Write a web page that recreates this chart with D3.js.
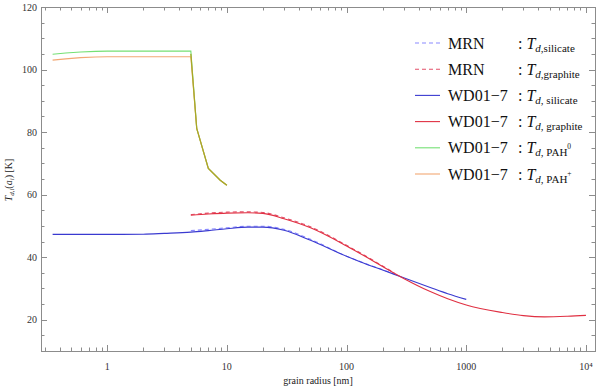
<!DOCTYPE html>
<html>
<head>
<meta charset="utf-8">
<script src="https://cdn.jsdelivr.net/npm/d3@7"></script>
<style>
  body { margin: 0; background: #fff; }
  svg { display: block; }
  text { font-family: 'Liberation Serif', 'Times New Roman', Times, serif; }
</style>
</head>
<body>
<svg id="chart"></svg>
<script>
// grain radius [nm] and dust temperature [K]
const mrnA = [5, 7, 10, 15, 20, 30, 50, 100, 150, 200, 250];
const mrnSilT = [48.5, 48.9, 49.4, 49.9, 49.9, 48.9, 45.7, 40.3, 37.7, 36.0, 34.6];
const mrnGraT = [53.6, 54.1, 54.4, 54.5, 54.3, 52.6, 49.7, 43.8, 40.0, 37.2, 35.0];

const wdSilA = [0.35, 0.5, 1, 2, 3, 5, 7, 10, 15, 20, 30, 50, 100, 150, 200, 300, 500, 700, 1000];
const wdSilT = [47.3, 47.3, 47.3, 47.35, 47.6, 48.0, 48.5, 49.1, 49.6, 49.6, 48.6, 45.4, 40.3, 37.6, 35.9, 33.4, 30.3, 28.3, 26.5];

const wdGraA = [5, 7, 10, 15, 20, 30, 50, 100, 150, 200, 300, 500, 700, 1000, 2000, 3000, 4500, 7000, 10000];
const wdGraT = [53.4, 53.8, 54.1, 54.2, 54.0, 52.3, 49.4, 43.6, 39.8, 37.0, 33.2, 29.0, 26.7, 24.7, 22.3, 21.3, 20.9, 21.1, 21.4];

const pahA = [0.35, 0.45, 0.6, 0.8, 1, 2, 3, 5, 5.6, 7, 8.8, 10];
const pah0T = [104.9, 105.3, 105.6, 105.8, 105.9, 105.9, 105.9, 105.9, 81.2, 68.4, 64.6, 63.0];
const pahPT = [103.0, 103.4, 103.8, 104.0, 104.1, 104.1, 104.1, 104.1, 81.2, 68.4, 64.6, 63.0];

const xTickLabels = ["1", "10", "100", "1000", "10⁴"];
const yTickValues = [20, 40, 60, 80, 100, 120];

const series = [
    { name: "MRN", sub: "silicate", sep: ",", a: mrnA, t: mrnSilT, color: "#8a8aff", dash: "4,3", curve: true },
    { name: "MRN", sub: "graphite", sep: ",", a: mrnA, t: mrnGraT, color: "#e4506a", dash: "4,3", curve: true },
    { name: "WD01\u22127", sub: "silicate", sep: ", ", a: wdSilA, t: wdSilT, color: "#3a3ad0", dash: null, curve: true },
    { name: "WD01\u22127", sub: "graphite", sep: ", ", a: wdGraA, t: wdGraT, color: "#e03042", dash: null, curve: true },
    { name: "WD01\u22127", sub: "PAH", sup: "0", sep: ", ", a: pahA, t: pah0T, color: "#74e074", dash: null, curve: false },
    { name: "WD01\u22127", sub: "PAH", sup: "+", sep: ", ", a: pahA, t: pahPT, color: "#f2a874", dash: null, curve: false }
];
const overlapColor = "#a8a826";

const width = 600, height = 389;
const mLeft = 41, mRight = 595, mTop = 7, mBottom = 351;

const svg = d3.select("#chart").attr("width", width).attr("height", height);

const x = d3.scaleLog().domain([0.28, 11900]).range([mLeft, mRight]);
const y = d3.scaleLinear().domain([10, 120]).range([mBottom, mTop]);

const frameColor = "#8c8c8c";

// frame
svg.append("rect")
    .attr("x", mLeft + 0.5).attr("y", mTop + 0.5)
    .attr("width", mRight - mLeft).attr("height", mBottom - mTop)
    .attr("fill", "none").attr("stroke", frameColor).attr("stroke-width", 1);

// x ticks (inward, bottom and top)
const xt = x.ticks();
const isMajor = v => Math.abs(Math.log10(v) - Math.round(Math.log10(v))) < 1e-9;
const gx = svg.append("g");
xt.forEach(v => {
    const len = isMajor(v) ? 6 : 3.5;
    const px = Math.round(x(v)) + 0.5;
    gx.append("line").attr("x1", px).attr("x2", px).attr("y1", mBottom).attr("y2", mBottom - len)
        .attr("stroke", frameColor);
    gx.append("line").attr("x1", px).attr("x2", px).attr("y1", mTop).attr("y2", mTop + len)
        .attr("stroke", frameColor);
});
xt.filter(isMajor).forEach((v, i) => {
    gx.append("text")
        .attr("x", x(v)).attr("y", 370)
        .attr("text-anchor", "middle")
        .attr("font-size", 10).attr("fill", "#333")
        .text(xTickLabels[i]);
});

// y ticks
const gy = svg.append("g");
d3.range(10, 121, 5).forEach(v => {
    const len = v % 20 === 0 ? 6 : 3.5;
    const py = Math.round(y(v)) + 0.5;
    gy.append("line").attr("x1", mLeft).attr("x2", mLeft + len).attr("y1", py).attr("y2", py)
        .attr("stroke", frameColor);
    gy.append("line").attr("x1", mRight).attr("x2", mRight - len).attr("y1", py).attr("y2", py)
        .attr("stroke", frameColor);
});
yTickValues.forEach(v => {
    gy.append("text")
        .attr("x", 37).attr("y", y(v) + 3.5)
        .attr("text-anchor", "end")
        .attr("font-size", 10).attr("fill", "#333")
        .text(v);
});

// axis labels
svg.append("text")
    .attr("x", (mLeft + mRight) / 2).attr("y", 384)
    .attr("text-anchor", "middle").attr("font-size", 10).attr("fill", "#222")
    .text("grain radius [nm]");

const yl = svg.append("text")
    .attr("transform", "translate(12,180) rotate(-90)")
    .attr("text-anchor", "middle").attr("font-size", 10).attr("fill", "#222");
yl.append("tspan").attr("font-style", "italic").text("T");
yl.append("tspan").attr("font-size", 7).attr("dy", 2).attr("font-style", "italic").text("d");
yl.append("tspan").attr("font-size", 7).text(",");
yl.append("tspan").attr("font-size", 7).attr("font-style", "italic").text("i");
yl.append("tspan").attr("dy", -2).text("(");
yl.append("tspan").attr("font-style", "italic").text("a");
yl.append("tspan").attr("font-size", 7).attr("dy", 2).attr("font-style", "italic").text("i");
yl.append("tspan").attr("dy", -2).text(") [K]");

// curves
const plot = svg.append("g");
series.forEach(s => {
    const line = d3.line()
        .x((d, k) => x(s.a[k]))
        .y(d => y(d))
        .curve(s.curve ? d3.curveMonotoneX : d3.curveLinear);
    plot.append("path")
        .datum(s.t)
        .attr("d", line)
        .attr("fill", "none")
        .attr("stroke", s.color)
        .attr("stroke-width", 1.1)
        .attr("stroke-dasharray", s.dash);
});

// where the two PAH curves coincide they blend into one olive line
const startK = pah0T.findIndex((v, k) => v === pahPT[k]) - 1;
const shared = pahA.map((a, k) => [a, pah0T[k]]).slice(startK);
plot.append("path")
    .datum(shared)
    .attr("d", d3.line().x(d => x(d[0])).y(d => y((d[0] === pahA[startK]) ? (pah0T[startK] + pahPT[startK]) / 2 : d[1])))
    .attr("fill", "none")
    .attr("stroke", overlapColor)
    .attr("stroke-width", 1.2);

// legend
const lg = svg.append("g");
series.forEach((s, i) => {
    const cy = 43 + i * 26.2;
    lg.append("line")
        .attr("x1", 415).attr("x2", 440).attr("y1", cy).attr("y2", cy)
        .attr("stroke", s.color).attr("stroke-width", 1.1)
        .attr("stroke-dasharray", s.dash);
    lg.append("text")
        .attr("x", 448).attr("y", cy + 5.5)
        .attr("font-size", 16).attr("fill", "#111")
        .text(s.name);
    const t = lg.append("text")
        .attr("x", 518).attr("y", cy + 5.5)
        .attr("font-size", 16).attr("fill", "#111");
    t.append("tspan").text(": ");
    t.append("tspan").attr("font-style", "italic").text("T");
    t.append("tspan").attr("font-size", 11).attr("dy", 3).attr("font-style", "italic").text("d");
    t.append("tspan").attr("font-size", 11).text(s.sep + s.sub);
    if (s.sup) {
        t.append("tspan").attr("font-size", 7.5).attr("dy", -7).text(s.sup);
    }
});
</script>
</body>
</html>
